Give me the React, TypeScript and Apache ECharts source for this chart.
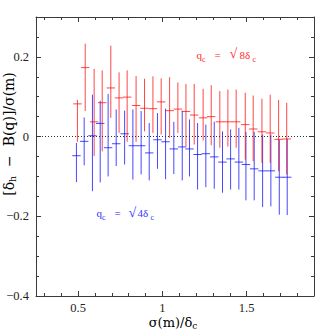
import React, { useEffect, useRef } from "react";
import * as echarts from "echarts";

// ---- data ----
const HALF_BIN = 0.025;

const redX = [0.496, 0.542, 0.595, 0.643, 0.694, 0.743, 0.791, 0.844, 0.894, 0.944, 0.993, 1.043, 1.092, 1.140, 1.189, 1.242, 1.290, 1.341, 1.389, 1.438, 1.492, 1.539, 1.591, 1.640, 1.690, 1.738];
const redY = [0.082, 0.173, 0.037, 0.085, 0.122, 0.097, 0.099, 0.078, 0.071, 0.070, 0.087, 0.065, 0.069, 0.063, 0.054, 0.047, 0.050, 0.037, 0.037, 0.037, 0.030, 0.019, 0.012, 0.009, -0.007, -0.006];
const redHigh = [0.092, 0.233, 0.170, 0.166, 0.228, 0.161, 0.166, 0.152, 0.145, 0.151, 0.146, 0.149, 0.136, 0.132, 0.132, 0.120, 0.129, 0.114, 0.118, 0.118, 0.110, 0.103, 0.095, 0.105, 0.092, 0.085];
const redLow = [-0.013, 0.064, -0.049, -0.037, 0.047, 0.009, -0.013, -0.013, 0.013, 0.009, 0.005, -0.003, 0.009, -0.024, -0.020, -0.010, -0.022, -0.028, -0.025, -0.028, -0.058, -0.062, -0.066, -0.066, -0.087, -0.095];

const blueX = [0.490, 0.536, 0.585, 0.631, 0.678, 0.726, 0.776, 0.825, 0.874, 0.922, 0.971, 1.019, 1.068, 1.118, 1.161, 1.209, 1.258, 1.308, 1.357, 1.405, 1.454, 1.496, 1.545, 1.595, 1.644, 1.694, 1.741];
const blueY = [-0.048, -0.012, 0.002, 0.033, -0.028, -0.018, 0.007, -0.023, -0.023, -0.041, -0.008, -0.013, -0.031, -0.026, -0.031, -0.045, -0.043, -0.051, -0.064, -0.056, -0.064, -0.070, -0.081, -0.086, -0.086, -0.102, -0.102];
const blueHigh = [-0.016, 0.048, 0.105, 0.090, 0.107, 0.068, 0.065, 0.068, 0.064, 0.034, 0.059, 0.070, 0.037, 0.065, 0.043, 0.034, 0.030, 0.037, 0.013, 0.018, 0.022, 0.012, 0.012, 0.005, 0.005, -0.008, -0.006];
const blueLow = [-0.114, -0.072, -0.137, -0.115, -0.100, -0.074, -0.070, -0.108, -0.095, -0.110, -0.081, -0.107, -0.094, -0.110, -0.100, -0.133, -0.127, -0.131, -0.141, -0.133, -0.133, -0.160, -0.160, -0.177, -0.175, -0.196, -0.197];

const xMajorTicks = [0.5, 1, 1.5];
const xMinorTicks = [0.3, 0.4, 0.6, 0.7, 0.8, 0.9, 1.1, 1.2, 1.3, 1.4, 1.6, 1.7, 1.8];
const yMajorTicks = [-0.4, -0.2, 0, 0.2];
const yMinorTicks = [-0.35, -0.3, -0.25, -0.15, -0.1, -0.05, 0.05, 0.1, 0.15, 0.25, 0.3];

const X_MIN = 0.25;
const X_MAX = 1.9;
const Y_MIN = -0.4;
const Y_MAX = 0.3;

const RED = "rgba(255,0,0,0.72)";
const BLUE = "rgba(0,0,255,0.72)";
const RED_TEXT = "rgb(255,45,45)";
const BLUE_TEXT = "rgb(50,50,255)";
const AXIS = "#3a3a3a";
const TICK_FONT = "Liberation Serif";
const TITLE_FONT = "DejaVu Serif";

function makeRender(color: string) {
  return (params: any, api: any) => {
    const x = api.value(0);
    const y = api.value(1);
    const hi = api.value(2);
    const lo = api.value(3);
    const pT = api.coord([x, hi]);
    const pB = api.coord([x, lo]);
    const pL = api.coord([x - HALF_BIN, y]);
    const pR = api.coord([x + HALF_BIN, y]);
    const style = { stroke: color, lineWidth: 1, fill: null };
    return {
      type: "group",
      children: [
        { type: "line", shape: { x1: pT[0], y1: pT[1], x2: pB[0], y2: pB[1] }, style },
        { type: "line", shape: { x1: pL[0], y1: pL[1], x2: pR[0], y2: pR[1] }, style },
      ],
    };
  };
}

const fmtY = (v: number) => {
  if (Math.abs(v) < 1e-9) return "0";
  return v < 0 ? "\u2212" + String(Math.abs(v)) : String(v);
};

function xAxisDef(pos: "bottom" | "top", ticks: number[], len: number, labels: boolean, line: boolean) {
  return {
    type: "value",
    min: X_MIN,
    max: X_MAX,
    position: pos,
    axisLine: { show: line, onZero: false, lineStyle: { color: AXIS, width: 1 } },
    axisTick: { show: true, inside: true, length: len, customValues: ticks, lineStyle: { color: AXIS, width: 1 } },
    axisLabel: labels
      ? { show: true, customValues: ticks, margin: 5, fontFamily: TICK_FONT, fontSize: 12.5, color: "#222" }
      : { show: false },
    splitLine: { show: false },
  };
}

function yAxisDef(pos: "left" | "right", ticks: number[], len: number, labels: boolean, line: boolean) {
  return {
    type: "value",
    min: Y_MIN,
    max: Y_MAX,
    position: pos,
    axisLine: { show: line, onZero: false, lineStyle: { color: AXIS, width: 1 } },
    axisTick: { show: true, inside: true, length: len, customValues: ticks, lineStyle: { color: AXIS, width: 1 } },
    axisLabel: labels
      ? { show: true, customValues: ticks, margin: 7, formatter: fmtY, fontFamily: TICK_FONT, fontSize: 12.5, color: "#222" }
      : { show: false },
    splitLine: { show: false },
  };
}

function txt(text: string, x: number, y: number, size: number, color: string, family = "Liberation Serif") {
  return {
    type: "text",
    x,
    y,
    style: { text, fontFamily: family, fontSize: size, fill: color, align: "left", verticalAlign: "middle" },
  };
}

export default function App() {
  const ref = useRef<HTMLDivElement>(null);
  useEffect(() => {
    if (!ref.current) return;
    const chart = echarts.init(ref.current, null, { renderer: "svg" });
    const redData = redX.map((x, i) => [x, redY[i], redHigh[i], redLow[i]]);
    const blueData = blueX.map((x, i) => [x, blueY[i], blueHigh[i], blueLow[i]]);

    const subRich = (size: number, sub: number, lh: number) => ({
      a: { fontFamily: TITLE_FONT, fontSize: size, lineHeight: lh, verticalAlign: "middle", color: "#222" },
      s: { fontFamily: TITLE_FONT, fontSize: sub, lineHeight: sub, verticalAlign: "bottom", color: "#222" },
    });

    chart.setOption({
      animation: false,
      backgroundColor: "#ffffff",
      grid: { left: 36, right: 18, top: 17, bottom: 36, containLabel: false },
      xAxis: [
        xAxisDef("bottom", xMajorTicks, 5, true, true),
        xAxisDef("bottom", xMinorTicks, 3, false, false),
        xAxisDef("top", xMajorTicks, 5, false, true),
        xAxisDef("top", xMinorTicks, 3, false, false),
      ],
      yAxis: [
        yAxisDef("left", yMajorTicks, 5, true, true),
        yAxisDef("left", yMinorTicks, 3, false, false),
        yAxisDef("right", yMajorTicks, 5, false, true),
        yAxisDef("right", yMinorTicks, 3, false, false),
      ],
      series: [
        {
          type: "custom",
          name: "blue",
          xAxisIndex: 0,
          yAxisIndex: 0,
          data: blueData,
          encode: { x: 0, y: [1, 2, 3] },
          renderItem: makeRender(BLUE),
          silent: true,
          markLine: {
            silent: true,
            symbol: "none",
            label: { show: false },
            lineStyle: { color: "#333", type: [1, 2], width: 1 },
            data: [{ yAxis: 0 }],
          },
        },
        {
          type: "custom",
          name: "red",
          xAxisIndex: 0,
          yAxisIndex: 0,
          data: redData,
          encode: { x: 0, y: [1, 2, 3] },
          renderItem: makeRender(RED),
          silent: true,
        },
      ],
      graphic: [
        // red annotation
        txt("q", 196.5, 54.5, 11, RED_TEXT),
        txt("c", 202, 59, 8, RED_TEXT),
        txt("=", 214.5, 54.5, 11, RED_TEXT),
        txt("\u221A", 229.5, 53.5, 14, RED_TEXT),
        txt("8\u03B4", 239.5, 54.5, 11, RED_TEXT),
        txt("c", 252.5, 59, 8, RED_TEXT),
        // blue annotation
        txt("q", 96.5, 213, 11, BLUE_TEXT),
        txt("c", 102, 217.5, 8, BLUE_TEXT),
        txt("=", 114.5, 213, 11, BLUE_TEXT),
        txt("\u221A", 128.5, 212, 14, BLUE_TEXT),
        txt("4\u03B4", 137.5, 213, 11, BLUE_TEXT),
        txt("c", 150.5, 217.5, 8, BLUE_TEXT),
        // x axis title
        {
          type: "text",
          x: 173,
          y: 322,
          style: {
            text: "{a|\u03C3(m)/\u03B4}{s|c}",
            align: "center",
            verticalAlign: "middle",
            rich: subRich(13, 9, 16),
          },
        },
        // y axis title
        {
          type: "text",
          x: 9,
          y: 134,
          rotation: Math.PI / 2,
          style: {
            text: "{a|[\u03B4}{s|h}{a|  \u2212  B(q)]/\u03C3(m)}",
            align: "center",
            verticalAlign: "middle",
            rich: subRich(14, 9.5, 16),
          },
        },
      ],
    });
    return () => chart.dispose();
  }, []);
  return <div ref={ref} style={{ position: "absolute", left: 0, top: 0, width: 332, height: 332 }} />;
}
